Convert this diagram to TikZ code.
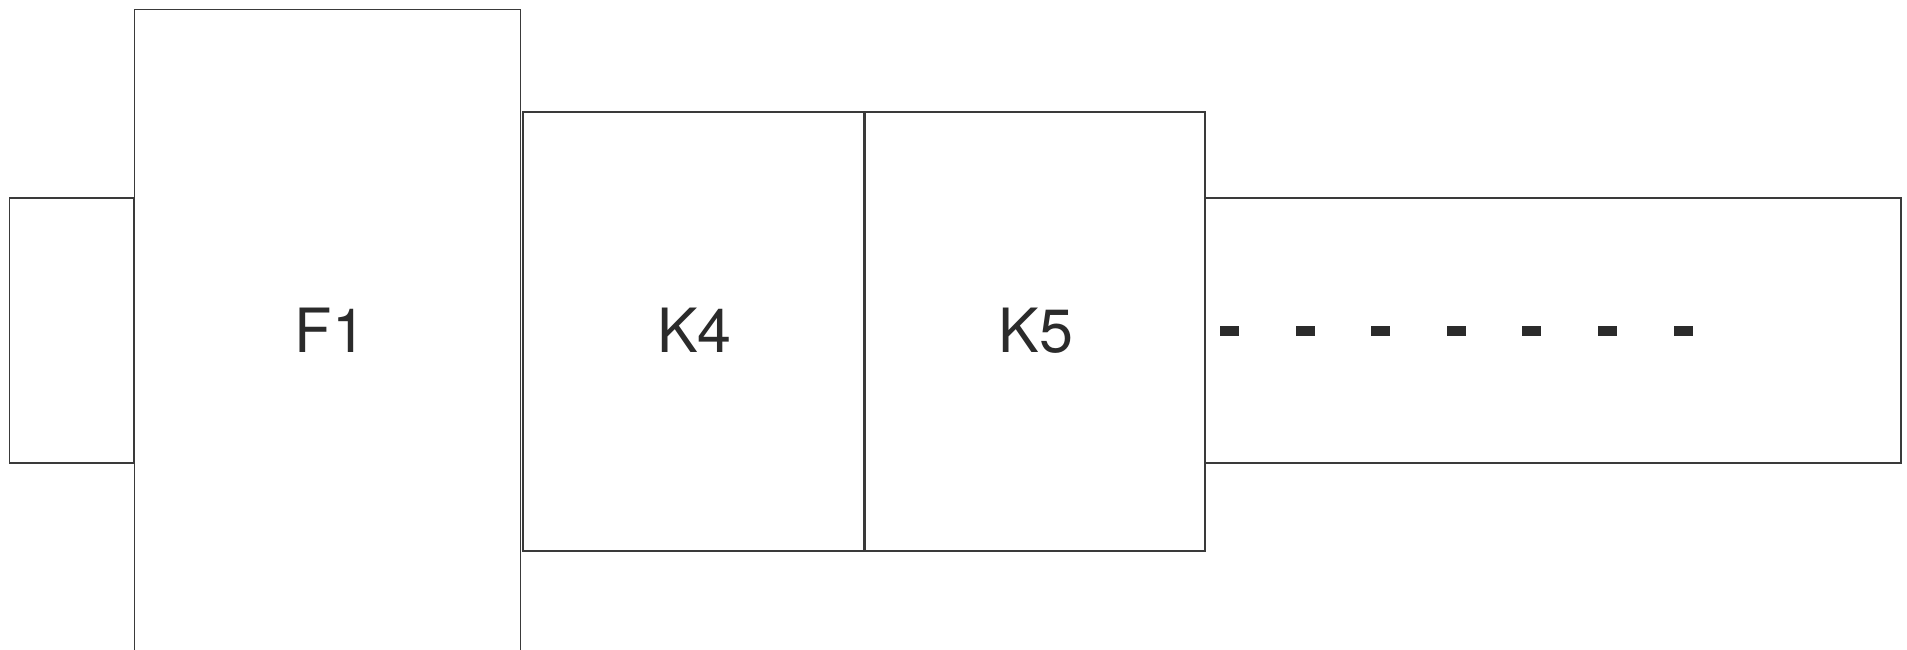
\documentclass[tikz,border=0pt]{standalone}
\usepackage{fontspec}
\setmainfont{TeX Gyre Heros}
\begin{document}
\begin{tikzpicture}[x=1pt,y=-1pt,
  box/.style={draw=linecol,line width=1.4pt,inner sep=0pt,outer sep=0pt,anchor=north west},
  lbl/.style={text=textcol,font=\fontsize{61}{61}\selectfont,inner sep=0pt},
  dashbox/.style={fill=textcol,draw=none,inner sep=0pt,outer sep=0pt,minimum width=19pt,minimum height=10pt}]
\definecolor{linecol}{HTML}{3A3A3A}
\definecolor{textcol}{HTML}{2B2B2B}
\useasboundingbox (0,0) rectangle (1907,649);
\clip (0,0) rectangle (1907,649);
% boxes
\node[box,minimum width=124.5pt,minimum height=265pt] (L) at (9.5,198) {};
\node[box,minimum width=386pt,minimum height=700pt] (F1) at (134.5,9.5) {};
\node[box,minimum width=340.5pt,minimum height=439pt] (K4) at (523,112) {};
\node[box,minimum width=340pt,minimum height=439pt] (K5) at (865,112) {};
\node[box,minimum width=696pt,minimum height=265pt] (R) at (1205,198) {};
% labels
\node[lbl] (tF1) at (330.5,330.5) {F1};
\node[lbl] (tK4) at (694.5,330.5) {K4};
\node[lbl] (tK5) at (1036,330.5) {K5};
% dots
\foreach \i in {0,...,6} {
  \node[dashbox] (d\i) at ({1229.5+75.6*\i},330.7) {};
}
\end{tikzpicture}
\end{document}
